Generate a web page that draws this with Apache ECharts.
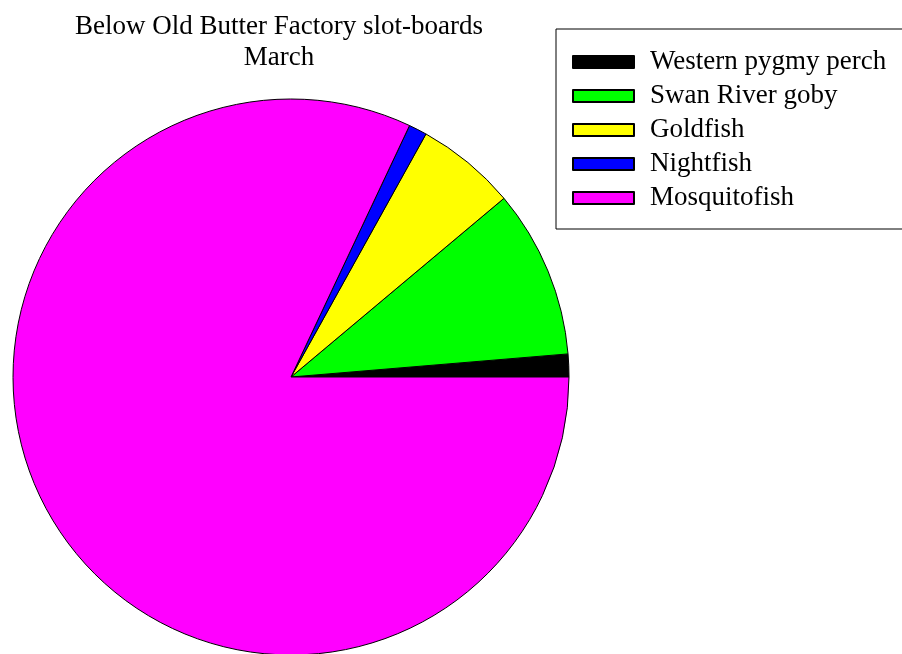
<!DOCTYPE html>
<html>
<head>
<meta charset="utf-8">
<script src="https://cdn.jsdelivr.net/npm/echarts@6/dist/echarts.min.js"></script>
<style>
  html, body { margin: 0; padding: 0; background: #fff; }
  #chart { width: 902px; height: 654px; }
</style>
</head>
<body>
<div id="chart"></div>
<script>
// species caught, slot-boards below the old butter factory, March
const species = ['Western pygmy perch', 'Swan River goby', 'Goldfish', 'Nightfish', 'Mosquitofish'];
const counts = [5, 37, 22, 4, 310];
const colours = ['#000000', '#00ff00', '#ffff00', '#0000ff', '#ff00ff'];

const chart = echarts.init(document.getElementById('chart'));
const font = 'Liberation Serif, Times New Roman, serif';

const option = {
  animation: false,
  title: {
    text: 'Below Old Butter Factory slot-boards\nMarch',
    left: 274,
    top: 6,
    textAlign: 'center',
    textStyle: {
      fontFamily: font,
      fontSize: 27,
      fontWeight: 'normal',
      color: '#000',
      lineHeight: 31
    }
  },
  legend: {
    orient: 'vertical',
    left: 556,
    top: 29,
    padding: [18, 60, 16, 16],
    itemWidth: 61,
    itemHeight: 12,
    itemGap: 4,
    icon: 'rect',
    borderColor: '#000',
    borderWidth: 1,
    selectedMode: false,
    data: species,
    textStyle: {
      fontFamily: font,
      fontSize: 27,
      color: '#000',
      lineHeight: 30,
      padding: [0, 0, 0, 11]
    }
  },
  series: [{
    type: 'pie',
    center: [291, 377],
    radius: 278,
    startAngle: 0,
    clockwise: false,
    avoidLabelOverlap: false,
    label: { show: false },
    labelLine: { show: false },
    emphasis: { disabled: true },
    itemStyle: { borderColor: '#000', borderWidth: 1 },
    data: species.map((name, i) => ({
      name: name,
      value: counts[i],
      itemStyle: { color: colours[i] }
    }))
  }]
};

chart.setOption(option);
</script>
</body>
</html>
